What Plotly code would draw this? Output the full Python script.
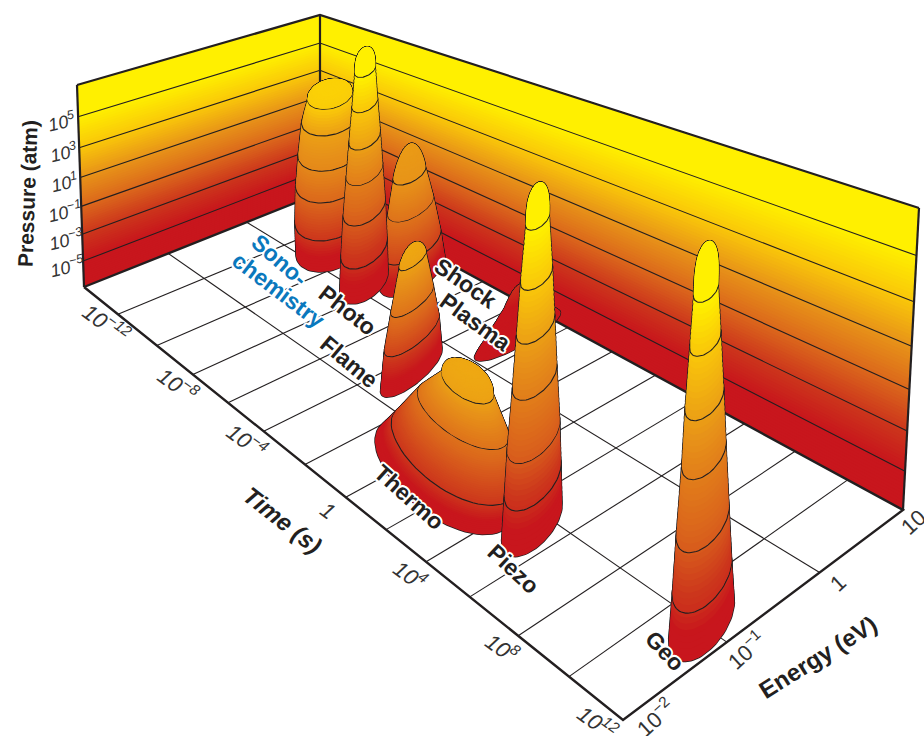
import numpy as np
import plotly.graph_objects as go

# ---------- axis values ----------
time_grid = [-12, -10, -8, -6, -4, -2, 0, 2, 4, 6, 8, 10]
time_ticks = [-12, -8, -4, 0, 4, 8, 12]
time_tick_text = ["10<sup>−12</sup>", "10<sup>−8</sup>", "10<sup>−4</sup>", "1", "10<sup>4</sup>", "10<sup>8</sup>", "10<sup>12</sup>"]
energy_grid = [-1, 0]
energy_ticks = [-2, -1, 0, 1]
energy_tick_text = ["10<sup>−2</sup>", "10<sup>−1</sup>", "1", "10"]
pressure_lines = [-5, -3, -1, 1, 3, 5]
pressure_tick_text = ["10<sup>−5</sup>", "10<sup>−3</sup>", "10<sup>−1</sup>", "10<sup>1</sup>", "10<sup>3</sup>", "10<sup>5</sup>"]
T_MIN, T_MAX, E_MIN, E_MAX, P_MIN, P_MAX = -14, 12, -2, 1, -7, 7

# position of every second time decade along the time axis (the printed axis is not evenly spaced)
time_scale_t = [-14, -12, -10, -8, -6, -4, -2, 0, 2, 4, 6, 8, 10, 12]
time_scale_f = [0, .0987, .203, .292, .3726, .449, .531, .606, .675, .739, .804, .871, .936, 1]

# ---------- colour scale (pressure -> colour) ----------
col_p = [-7, -5, -3, -1, 1, 3, 5, 7]
col_r = [200, 200, 205, 220, 232, 250, 255, 255]
col_g = [22, 22, 55, 105, 148, 200, 240, 240]
col_b = [29, 29, 28, 28, 25, 10, 0, 0]

# ---------- peaks: log time, log energy, and for each contour: height, radii, colour level ----------
sono_pos = (-11.0, .32)
sono_z = [-7, -4.8, -2.2, -.1, 2.2, 3.8]; sono_top = 4.5
sono_re = [.40, .41, .40, .37, .33, .26]
sono_rt = [.66, .68, .66, .62, .54, .42]
sono_c = [-6.5, -3, -1, .5, 1.5, 3.2]; sono_ctop = 3.5

shock_pos = (-8.1, .616)
shock_z = [-7, -5.1, -2.6, -.5]; shock_top = 1.5
shock_re = [.4, .354, .274, .195]
shock_rt = [.6, .53, .41, .29]
shock_shift = [0, -.05, -.12, -.2]
shock_c = [-6.5, -2.5, -.5, 1]; shock_ctop = 1.3

photo_pos = (-8.67, .14)
photo_z = [-7, -4.78, -2.07, .44, 2.66, 4.98, 7.2]; photo_top = 8.65
photo_re = [.28, .265, .24, .207, .178, .144, .115]
photo_rt = [.5, .48, .43, .37, .32, .26, .21]
photo_c = [-6.5, -3.5, -1.5, 0, 1.5, 3, 5.2]; photo_ctop = 6

plasma_pos = (-2.75, .59)
plasma_z = [-7, -6, -5]; plasma_top = -4
plasma_re = [.53, .35, .18]
plasma_rt = [.4, .26, .14]
plasma_c = [-7, -6, -5]; plasma_ctop = -3.5

flame_pos = (-3.5, -.5)
flame_z = [-7, -4.86, -2.9, -.58]; flame_top = .35
flame_re = [.35, .31, .24, .15]
flame_rt = [.28, .25, .19, .12]
flame_c = [-6.5, -2.5, -.5, 1.5]; flame_ctop = 1.8

thermo_pos = (1.25, -1.24)
thermo_z = [-7, -5.65, -3.4, -1.8]; thermo_top = -.9
thermo_re = [.35, .3, .2, .12]
thermo_rt = [3.0, 2.7, 2, 1.1]
thermo_shift = [0, .4, .8, 1.0]
thermo_c = [-6.5, -3, -.5, 1.5]; thermo_ctop = 1.8

piezo_pos = (4.86, -1.13)
piezo_z = [-7, -4.98, -2.87, -.12, 2.36, 4.75, 7.4]; piezo_top = 9.1
piezo_re = [.29, .27, .25, .21, .18, .15, .11]
piezo_rt = [.52, .49, .45, .38, .32, .27, .2]
piezo_c = [-6.5, -3.5, -1.5, 0, 1.5, 3, 5.2]; piezo_ctop = 6

geo_pos = (11, -.97)
geo_z = [-7, -5.2, -2.9, -.1, 2.2, 4.7, 6.8]; geo_top = 8.8
geo_re = [.30, .27, .24, .20, .175, .14, .11]
geo_rt = [.54, .49, .43, .36, .31, .25, .2]
geo_shift = [0, -.03, -.07, -.1, -.14, -.17, -.2]
geo_c = [-6.5, -3.5, -1.5, 0, 1.5, 3, 5.2]; geo_ctop = 6

# ---------- text labels on the floor ----------
label_text = ["Sono-", "chemistry", "Photo", "Flame", "Shock", "Plasma", "Thermo", "Piezo", "Geo"]
label_t = [-11.4, -10.1, -7.7, -5.2, -6.33, -4.2, 1.3, 6.0, 11.1]
label_e = [-.22, -.58, -.305, -.83, .855, .45, -1.63, -1.58, -1.37]
label_angle = [41, 37, 38, 40, 35, 36, 42, 43, 47]

# ---------- projection of (log t, log E, log p) on to the page ----------
ink = "#231f20"
FLOOR = np.array([[84, 287, 1], [623, 720, 1], [903, 510, 1], [320, 193, 1]], float)  # L, F, R, B
TOPS = np.array([[77, 85, 1], [919, 208, 1], [320, 15, 1]], float)                    # L, R, B
L, F, R, B = FLOOR
wl, wr, wf = np.linalg.solve(np.column_stack([L, R, -F]), B)
fh = [wl * L, wf * F, wr * R, B]                                        # floor plane
th_ = [wl * TOPS[0], wl * TOPS[0] + wr * TOPS[1] - TOPS[2], wr * TOPS[1], TOPS[2]]  # top plane


def plane(h, s, r):
    o = [h[0][i] + s * (h[1][i] - h[0][i]) + r * (h[3][i] - h[0][i]) for i in range(3)]
    return o[0] / o[2], o[1] / o[2]


def project(t, e, p, warp=False):
    s = np.interp(t, time_scale_t, time_scale_f)
    r = (np.asarray(e, float) - E_MIN) / (E_MAX - E_MIN)
    q = (np.asarray(p, float) - P_MIN) / (P_MAX - P_MIN)
    if warp:  # pressure decades on the walls widen slightly upwards
        q = q - .12 * q * (1 - q)
    xf, yf = plane(fh, s, r)
    xt, yt = plane(th_, s, r)
    return xf + q * (xt - xf), yf + q * (yt - yf)


def colour(p):
    return "rgb(%d,%d,%d)" % (np.interp(p, col_p, col_r), np.interp(p, col_p, col_g), np.interp(p, col_p, col_b))


fig = go.Figure()


def line(t, e, p, width=1.0):
    x, y = project(np.asarray(t, float), np.asarray(e, float), np.asarray(p, float), warp=True)
    fig.add_trace(go.Scatter(x=x, y=y, mode="lines", line=dict(color=ink, width=width), hoverinfo="skip"))


def polygon(x, y, color, lw=0, lc=None):
    fig.add_trace(go.Scatter(x=x, y=y, mode="lines", fill="toself", fillcolor=color,
                             line=dict(color=lc or color, width=lw), hoverinfo="skip"))


# ---------- walls ----------
bands = np.linspace(P_MIN, P_MAX, 85)
for p in bands[:-1]:
    for (t0, e0, t1, e1) in [(T_MIN, E_MIN, T_MIN, E_MAX), (T_MIN, E_MAX, T_MAX, E_MAX)]:
        tt = np.array([t0, t1, t1, t0])
        ee = np.array([e0, e1, e1, e0])
        pp = np.array([p, p, P_MAX, P_MAX])
        x, y = project(tt, ee, pp, warp=True)
        polygon(x, y, colour(p + .08))
for p in pressure_lines:
    line([T_MIN, T_MIN, T_MAX], [E_MIN, E_MAX, E_MAX], [p, p, p], 1.1)

# ---------- floor grid ----------
for t in time_grid:
    line([t, t], [E_MIN, E_MAX], [P_MIN, P_MIN], 1.1)
for e in energy_grid:
    line([T_MIN, T_MAX], [e, e], [P_MIN, P_MIN], 1.1)
# ---------- frame ----------
line([T_MIN, T_MAX, T_MAX, T_MIN, T_MIN], [E_MIN, E_MIN, E_MAX, E_MAX, E_MIN], [P_MIN] * 5, 2.4)
line([T_MIN, T_MIN, T_MAX, T_MAX], [E_MIN, E_MAX, E_MAX, E_MAX], [P_MAX] * 4, 2.2)
for (t, e) in [(T_MIN, E_MIN), (T_MIN, E_MAX), (T_MAX, E_MAX)]:
    line([t, t], [e, e], [P_MIN, P_MAX], 2.2)


# ---------- peaks ----------
def peak(pos, z, top, re, rt, c, ctop, sag=2.0, cap=2.0, rings=True, shift=None, mix=1.0):
    z, re, rt, c = map(np.asarray, (z, re, rt, c))
    shift = np.zeros(len(z)) if shift is None else np.asarray(shift)
    th = np.linspace(0, 2 * np.pi, 73)
    front = (np.cos(th) - mix * np.sin(th)) / np.sqrt(1 + mix ** 2)
    body = np.linspace(z[0], z[-1], 60)
    dome = z[-1] + (top - z[-1]) * np.sin(np.linspace(0, np.pi / 2, 40))
    levels = np.unique(np.concatenate([body, dome, z]))
    polys = []
    for lv in levels:
        f = 1.0
        if lv > z[-1]:
            f = max(1 - ((lv - z[-1]) / (top - z[-1])) ** cap, 0) ** .5
        a = np.interp(lv, z, re) * f
        d = np.interp(lv, z, rt) * f
        sh = np.interp(lv, z, shift)
        cc = np.interp(lv, list(z) + [top], list(c) + [ctop])
        x, y = project(pos[0] + sh + d * np.cos(th), pos[1] + a * np.sin(th), lv - sag * a * front)
        polys.append((lv, x, y, cc))
    xs, ys = [], []
    for _, x, y, _c in polys:
        xs += list(x) + [None]
        ys += list(y) + [None]
    polygon(xs, ys, ink, 1.5, ink)
    for lv, x, y, cc in polys:
        polygon(x, y, colour(cc))
        if rings and lv in z[1:]:
            fig.add_trace(go.Scatter(x=x, y=y, mode="lines", line=dict(color=ink, width=1.1), hoverinfo="skip"))


peak(sono_pos, sono_z, sono_top, sono_re, sono_rt, sono_c, sono_ctop, sag=1.8, cap=2.8, mix=.3)
peak(shock_pos, shock_z, shock_top, shock_re, shock_rt, shock_c, shock_ctop, sag=1.6, cap=1.3, shift=shock_shift)
peak(photo_pos, photo_z, photo_top, photo_re, photo_rt, photo_c, photo_ctop, sag=2.4, cap=3)
peak(plasma_pos, plasma_z, plasma_top, plasma_re, plasma_rt, plasma_c, plasma_ctop, sag=.5, cap=1, rings=False)
peak(flame_pos, flame_z, flame_top, flame_re, flame_rt, flame_c, flame_ctop, sag=2.0, cap=1.5)
peak(thermo_pos, thermo_z, thermo_top, thermo_re, thermo_rt, thermo_c, thermo_ctop, sag=1.5, cap=3, shift=thermo_shift)
peak(piezo_pos, piezo_z, piezo_top, piezo_re, piezo_rt, piezo_c, piezo_ctop, sag=2.4, cap=3)
peak(geo_pos, geo_z, geo_top, geo_re, geo_rt, geo_c, geo_ctop, sag=2.4, cap=3.5, shift=geo_shift)

# ---------- text ----------
halo = ",".join("%gpx %gpx 0 white" % (a, b) for a, b in
                [(2, 0), (-2, 0), (0, 2), (0, -2), (1.5, 1.5), (-1.5, -1.5), (1.5, -1.5), (-1.5, 1.5)])
annotations = []


def text(x, y, s, angle=0, size=20, color=ink, weight="normal", style="normal", shadow=None):
    font = dict(family="Liberation Sans", size=size, color=color, weight=weight, style=style)
    if shadow:
        font["shadow"] = shadow
    annotations.append(dict(x=float(x), y=float(y), xref="x", yref="y", text=s, textangle=angle,
                            showarrow=False, font=font, xanchor="center", yanchor="middle"))


for s, t, e, ang in zip(label_text, label_t, label_e, label_angle):
    x, y = project(t, e, P_MIN)
    blue = s in ("Sono-", "chemistry")
    text(x, y, "<b>%s</b>" % s, ang, 23, "#0a78bd" if blue else ink, shadow=halo)

time_tick_dx = [-11, -15, -17, -18, -16, -16, -25]
time_tick_dy = [9, 10, 9, 13, 12, 11, 2]
energy_tick_dx = [32, 19, 18, 10]
energy_tick_dy = [-3, 8, 11, 12]
for t, s, dx, dy in zip(time_ticks, time_tick_text, time_tick_dx, time_tick_dy):
    x, y = project(t, E_MIN, P_MIN)
    text(x + dx, y + dy, s, 36, 22, "#333333", style="italic")
for e, s, dx, dy in zip(energy_ticks, energy_tick_text, energy_tick_dx, energy_tick_dy):
    x, y = project(T_MAX, e, P_MIN)
    text(x + dx, y + dy, s, -42, 22, "#333333")
for p, s in zip(pressure_lines, pressure_tick_text):
    x, y = project(T_MIN, E_MIN, p, warp=True)
    text(x - 16, y + 5, s, -13, 18, "#333333", style="italic")

text(27, 194, "<b>Pressure (atm)</b>", -88, 21)
text(283, 520, "<b><i>Time (s)</i></b>", 38, 24)
text(817, 657, "<b>Energy (eV)</b>", -32, 24)

fig.update_layout(
    width=924, height=736, margin=dict(l=0, r=0, t=0, b=0), showlegend=False,
    paper_bgcolor="white", plot_bgcolor="white", hovermode=False,
    xaxis=dict(range=[0, 924], visible=False, fixedrange=True),
    yaxis=dict(range=[736, 0], visible=False, fixedrange=True),
    annotations=annotations,
)
fig.write_html("out.html", config=dict(displayModeBar=False), post_script="document.body.style.margin='0';")
